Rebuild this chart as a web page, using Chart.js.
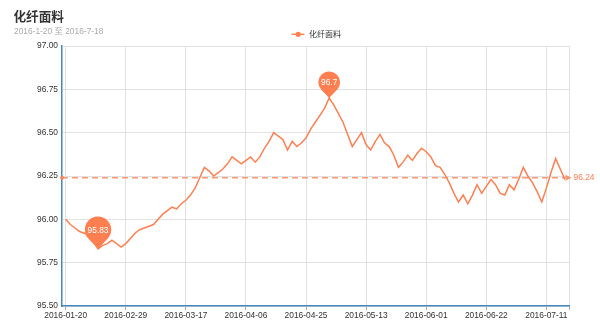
<!DOCTYPE html>
<html>
<head>
<meta charset="utf-8">
<script src="https://cdn.jsdelivr.net/npm/chart.js@4"></script>
<style>
html,body{margin:0;padding:0;background:#fff;}
canvas{display:block;}
</style>
</head>
<body>
<canvas id="c" width="600" height="336" style="width:600px;height:336px"></canvas>
<script>
// ---- data ----
const chartTitle = '化纤面料';
const chartSubtitle = '2016-1-20 至 2016-7-18';
const seriesName = '化纤面料';

const dates = [
  '2016-01-20','2016-01-22','2016-01-26','2016-01-28','2016-02-01','2016-02-03','2016-02-05',
  '2016-02-15','2016-02-17','2016-02-19','2016-02-22','2016-02-24','2016-02-26','2016-02-29',
  '2016-03-01','2016-03-02','2016-03-03','2016-03-04','2016-03-07','2016-03-08','2016-03-09',
  '2016-03-10','2016-03-11','2016-03-14','2016-03-15','2016-03-16','2016-03-17',
  '2016-03-18','2016-03-21','2016-03-22','2016-03-23','2016-03-24','2016-03-25','2016-03-28',
  '2016-03-29','2016-03-30','2016-03-31','2016-04-01','2016-04-05','2016-04-06',
  '2016-04-07','2016-04-08','2016-04-11','2016-04-12','2016-04-13','2016-04-14','2016-04-15',
  '2016-04-18','2016-04-19','2016-04-20','2016-04-21','2016-04-22','2016-04-25',
  '2016-04-26','2016-04-27','2016-04-28','2016-04-29','2016-05-03','2016-05-04','2016-05-05',
  '2016-05-06','2016-05-09','2016-05-10','2016-05-11','2016-05-12','2016-05-13',
  '2016-05-16','2016-05-17','2016-05-18','2016-05-19','2016-05-20','2016-05-23','2016-05-24',
  '2016-05-25','2016-05-26','2016-05-27','2016-05-30','2016-05-31','2016-06-01',
  '2016-06-02','2016-06-03','2016-06-06','2016-06-07','2016-06-08','2016-06-13','2016-06-14',
  '2016-06-15','2016-06-16','2016-06-17','2016-06-20','2016-06-21','2016-06-22',
  '2016-06-23','2016-06-24','2016-06-27','2016-06-28','2016-06-29','2016-06-30','2016-07-01',
  '2016-07-04','2016-07-05','2016-07-06','2016-07-07','2016-07-08','2016-07-11',
  '2016-07-12','2016-07-13','2016-07-15','2016-07-18'
];

const values = [
  96.00, 95.97, 95.95, 95.93, 95.92, 95.91, 95.87, 95.83, 95.85, 95.86,
  95.88, 95.86, 95.84, 95.86, 95.89, 95.92, 95.94, 95.95, 95.96, 95.97,
  96.00, 96.03, 96.05, 96.07, 96.06, 96.09, 96.11, 96.14, 96.18, 96.24,
  96.30, 96.28, 96.25, 96.27, 96.29, 96.32, 96.36, 96.34, 96.32, 96.34,
  96.36, 96.33, 96.36, 96.41, 96.45, 96.50, 96.48, 96.46, 96.40, 96.45,
  96.42, 96.44, 96.47, 96.52, 96.56, 96.60, 96.64, 96.70, 96.66, 96.61,
  96.56, 96.49, 96.42, 96.46, 96.50, 96.43, 96.40, 96.45, 96.49, 96.44,
  96.42, 96.37, 96.30, 96.33, 96.37, 96.34, 96.38, 96.41, 96.39, 96.36,
  96.31, 96.30, 96.26, 96.21, 96.15, 96.10, 96.14, 96.09, 96.14, 96.20,
  96.15, 96.19, 96.23, 96.20, 96.15, 96.14, 96.20, 96.17, 96.23, 96.30,
  96.25, 96.21, 96.16, 96.10, 96.18, 96.27, 96.35, 96.29, 96.23
];

const averageLine = [96.24];
const yTickValues = [95.50, 95.75, 96.00, 96.25, 96.50, 96.75, 97.00];
const xLabelIndex = [0, 13, 26, 39, 52, 65, 78, 91, 104];

// ---- styles ----
const COLOR = '#ff7f50';
const AXIS = '#4488bb';
const GRID = '#e2e2e2';
const LATIN = '"Liberation Sans", Arial, sans-serif';
const CJK = '"Noto Sans CJK SC", "Noto Sans", sans-serif';

const decor = {
  id: 'decor',
  afterDatasetsDraw(chart) {
    const ctx = chart.ctx;
    const xs = chart.scales.x, ys = chart.scales.y, ca = chart.chartArea;
    ctx.save();
    // average mark line
    const yA = ys.getPixelForValue(averageLine[0]);
    ctx.strokeStyle = 'rgba(255,127,80,0.8)';
    ctx.fillStyle = 'rgba(255,127,80,0.85)';
    ctx.lineWidth = 1.4;
    ctx.setLineDash([6, 4]);
    ctx.beginPath();
    ctx.moveTo(ca.left, yA);
    ctx.lineTo(ca.right - 3.5, yA);
    ctx.stroke();
    ctx.setLineDash([]);
    ctx.beginPath();
    ctx.arc(ca.left, yA, 2, 0, Math.PI * 2);
    ctx.fill();
    const tip = ca.right + 2;
    ctx.beginPath();
    ctx.moveTo(tip, yA);
    ctx.lineTo(tip - 6.5, yA - 3.2);
    ctx.lineTo(tip - 5, yA);
    ctx.lineTo(tip - 6.5, yA + 3.2);
    ctx.closePath();
    ctx.fill();
    ctx.fillStyle = COLOR;
    ctx.font = '8.4px ' + LATIN;
    ctx.textAlign = 'left';
    ctx.textBaseline = 'middle';
    ctx.fillText(averageLine[0].toFixed(2), tip + 2, yA);

    // max/min pins
    let iMax = 0, iMin = 0;
    values.forEach((v, i) => { if (v > values[iMax]) iMax = i; if (v < values[iMin]) iMin = i; });
    [iMax, iMin].forEach(i => {
      const px = xs.getPixelForValue(i), py = ys.getPixelForValue(values[i]);
      const text = String(values[i]);
      ctx.font = '8.4px ' + LATIN;
      const w = ctx.measureText(text).width;
      const r = w / 2 + 2.7;
      const d = r * 1.45;
      const cy = py - d;
      const th = Math.acos(r / d);
      ctx.beginPath();
      ctx.moveTo(px, py);
      ctx.arc(px, cy, r, Math.PI / 2 - th, Math.PI / 2 + th, true);
      ctx.closePath();
      ctx.fillStyle = COLOR;
      ctx.fill();
      ctx.fillStyle = '#ffffff';
      ctx.textAlign = 'center';
      ctx.textBaseline = 'middle';
      ctx.fillText(text, px, cy + 0.5);
    });
    ctx.restore();
  },
  afterDraw(chart) {
    const ctx = chart.ctx;
    ctx.save();
    ctx.textAlign = 'left';
    ctx.textBaseline = 'middle';
    ctx.fillStyle = '#333333';
    ctx.font = 'bold 12.6px ' + CJK;
    ctx.fillText(chartTitle, 13.5, 16.5);
    ctx.fillStyle = '#aaaaaa';
    ctx.font = '8.4px ' + LATIN + ', ' + CJK;
    ctx.fillText(chartSubtitle, 14, 31.5);
    // legend
    const ly = 34.3;
    ctx.strokeStyle = COLOR;
    ctx.fillStyle = COLOR;
    ctx.lineWidth = 1.4;
    ctx.beginPath();
    ctx.moveTo(291.5, ly); ctx.lineTo(304.5, ly);
    ctx.stroke();
    ctx.beginPath();
    ctx.arc(298.2, ly, 2.6, 0, Math.PI * 2);
    ctx.fill();
    ctx.fillStyle = '#333333';
    ctx.font = '8px ' + CJK;
    ctx.fillText(seriesName, 309, 34);
    ctx.restore();
  }
};

new Chart(document.getElementById('c'), {
  type: 'line',
  data: {
    datasets: [{
      label: seriesName,
      data: values.map((v, i) => ({ x: i, y: v })),
      borderColor: COLOR,
      backgroundColor: COLOR,
      borderWidth: 1.5,
      pointRadius: 0,
      tension: 0,
      fill: false
    }]
  },
  options: {
    responsive: false,
    animation: false,
    devicePixelRatio: 1,
    layout: { padding: { top: 46, right: 30.5, bottom: 0, left: 0 } },
    plugins: { legend: { display: false }, title: { display: false }, tooltip: { enabled: false } },
    scales: {
      x: {
        type: 'linear',
        min: -0.8,
        max: 109,
        afterBuildTicks: s => { s.ticks = xLabelIndex.concat([109]).map(v => ({ value: v })); },
        afterFit: s => { s.height = 30; },
        ticks: {
          autoSkip: false, maxRotation: 0, padding: 1,
          color: '#333333', font: { family: LATIN, size: 8.4 },
          callback: v => dates[v] && xLabelIndex.includes(v) ? dates[v] : ''
        },
        grid: { color: GRID, lineWidth: 1, drawTicks: true, tickLength: 4, tickColor: '#aaaaaa' },
        border: { color: AXIS, width: 1.5 }
      },
      y: {
        type: 'linear',
        min: yTickValues[0],
        max: yTickValues[yTickValues.length - 1],
        afterBuildTicks: s => { s.ticks = yTickValues.map(v => ({ value: v })); },
        afterFit: s => { s.width = 62; },
        ticks: {
          padding: 4, color: '#333333', font: { family: LATIN, size: 8.4 },
          callback: v => Number(v).toFixed(2)
        },
        grid: { color: GRID, lineWidth: 1, drawTicks: false },
        border: { color: AXIS, width: 1.5 }
      }
    }
  },
  plugins: [decor]
});
</script>
</body>
</html>
